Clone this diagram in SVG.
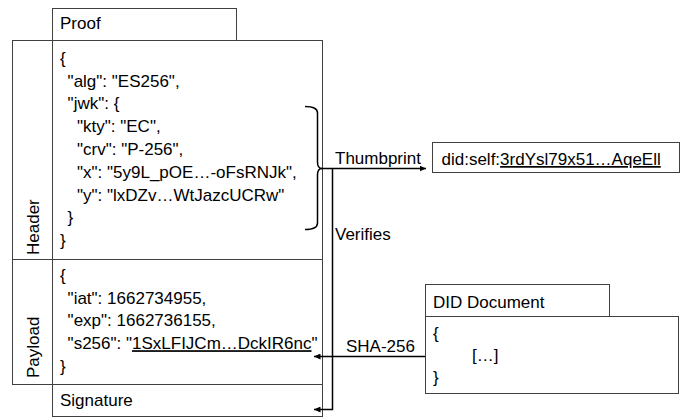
<svg xmlns="http://www.w3.org/2000/svg" width="685" height="418" viewBox="0 0 685 418">
<style>
  text { font-family: "Liberation Sans", Arial, sans-serif; font-size: 17px; fill: #000; }
  .box { fill: #fff; stroke: #404040; stroke-width: 1; }
  .conn { fill: none; stroke: #000; stroke-width: 1.5; }
  .u { text-decoration: underline; }
</style>
<defs>
  <marker id="arrow" markerUnits="userSpaceOnUse" markerWidth="7" markerHeight="6" refX="6.5" refY="3" orient="auto">
    <path d="M0,0 L6.5,3 L0,6 z" fill="#000"/>
  </marker>
</defs>
<rect width="685" height="418" fill="#fff"/>

<g id="proof">
  <rect class="box" x="52.5" y="8.5" width="184" height="32"/>
  <text x="60" y="29">Proof</text>
</g>

<g id="header">
  <rect class="box" x="12.5" y="40.5" width="40" height="219"/>
  <rect class="box" x="52.5" y="40.5" width="270" height="219"/>
  <text transform="translate(38.5,255) rotate(-90)">Header</text>
  <text x="60" y="64">{</text>
  <text x="67.6" y="86.7">"alg": "ES256",</text>
  <text x="67.6" y="109.4">"jwk": {</text>
  <text x="77" y="132.2">"kty": "EC",</text>
  <text x="77" y="155">"crv": "P-256",</text>
  <text x="77" y="177.7">"x": "5y9L_pOE…-oFsRNJk",</text>
  <text x="77" y="200.5">"y": "lxDZv…WtJazcUCRw"</text>
  <text x="67.6" y="223.2">}</text>
  <text x="60" y="246">}</text>
</g>

<g id="payload">
  <rect class="box" x="12.5" y="259.5" width="40" height="125"/>
  <rect class="box" x="52.5" y="259.5" width="270" height="125"/>
  <text transform="translate(38.5,378) rotate(-90)">Payload</text>
  <text x="60" y="281">{</text>
  <text x="67.6" y="303.7">"iat": 1662734955,</text>
  <text x="67.6" y="326.4">"exp": 1662736155,</text>
  <text x="67.6" y="349.2">"s256": "<tspan class="u">1SxLFIJCm…DckIR6nc</tspan>"</text>
  <text x="60" y="372">}</text>
</g>

<g id="signature">
  <rect class="box" x="52.5" y="384.5" width="270" height="32"/>
  <text x="60" y="405.5">Signature</text>
</g>

<g id="did-self">
  <rect class="box" x="432.5" y="142.5" width="247" height="30"/>
  <text x="441.5" y="165">did:self:<tspan class="u">3rdYsl79x51…AqeEll</tspan></text>
</g>

<g id="did-document">
  <rect class="box" x="425.5" y="284.5" width="184" height="32"/>
  <rect class="box" x="425.5" y="316.5" width="253" height="77"/>
  <text x="433" y="308">DID Document</text>
  <text x="433" y="339">{</text>
  <text x="472" y="361">[…]</text>
  <text x="433" y="383">}</text>
</g>

<g id="connectors">
  <path class="conn" d="M305,106.5 Q317.5,106.5 317.5,113 L317.5,162 Q317.5,168.5 322,168.5 Q317.5,168.5 317.5,175 L317.5,223 Q317.5,229.5 305,229.5"/>
  <path class="conn" d="M321,168.5 H426" marker-end="url(#arrow)"/>
  <path class="conn" d="M332.5,168.5 V409.5 H314" marker-end="url(#arrow)"/>
  <path class="conn" d="M425,356.5 H314" marker-end="url(#arrow)"/>
  <text x="335" y="163.5">Thumbprint</text>
  <text x="335" y="240">Verifies</text>
  <text x="346" y="352">SHA-256</text>
</g>
</svg>
